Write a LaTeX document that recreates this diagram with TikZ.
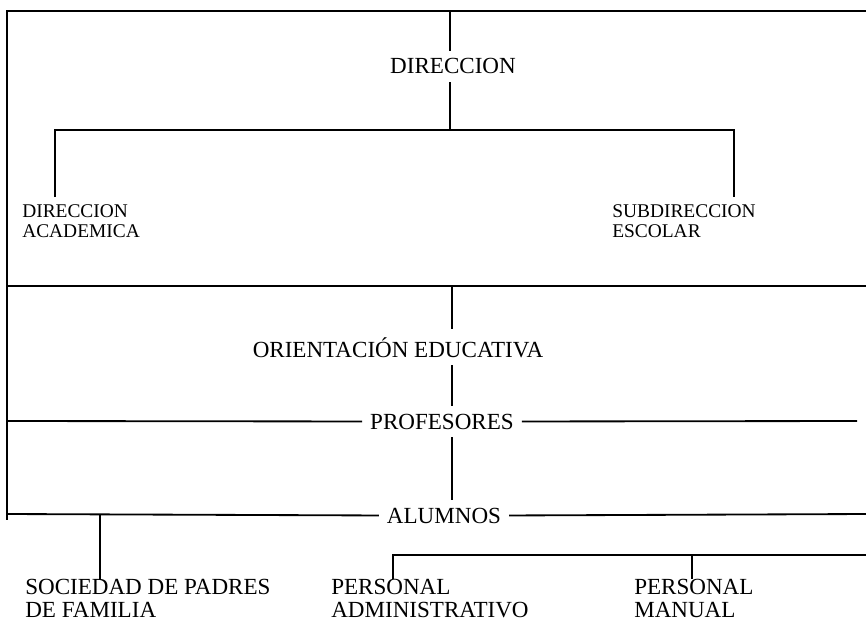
\documentclass[tikz,border=0pt]{standalone}
\usepackage{fontspec}
\setmainfont{Liberation Serif}
\usetikzlibrary{positioning,calc}

\begin{document}
\begin{tikzpicture}[
    x=0.025cm, y=-0.025cm,
    unit/.style={font=\fontsize{16.4}{16.6}\selectfont, inner sep=5.5pt},
    sub/.style={font=\fontsize{13.8}{14.2}\selectfont, align=left, inner xsep=0pt, inner ysep=5pt, anchor=north west},
    low/.style={font=\fontsize{16.4}{16.2}\selectfont, align=left, inner sep=0pt, anchor=north west},
    link/.style={line width=1.3pt}
]
\useasboundingbox (0,0) rectangle (866,623);

% Top level
\node[unit, anchor=base] (dir) at (453,74) {DIRECCION};
\node[sub] (diracad) at (22,197) {DIRECCION\\ACADEMICA};
\node[sub] (subdir) at (612,197) {SUBDIRECCION\\ESCOLAR};

% Middle
\node[unit, anchor=base] (orient) at (398,357) {ORIENTACIÓN EDUCATIVA};
\node[unit, anchor=base] (prof) at (442,429) {PROFESORES};
\node[unit, anchor=base] (alum) at (444,523) {ALUMNOS};

% Bottom
\node[low] (soc) at (25,579) {SOCIEDAD DE PADRES\\DE FAMILIA};
\node[low] (padm) at (331,579) {PERSONAL\\ADMINISTRATIVO};
\node[low] (pman) at (634,579) {PERSONAL\\MANUAL};

% Frame points
\coordinate (tl) at (7,11);
\coordinate (tr) at (866,11);
\coordinate (ltick) at (7,520);
\coordinate (dtop) at (450,11);
\coordinate (bl) at (55,130);
\coordinate (br) at (734,130);
\coordinate (ml) at (7,286);
\coordinate (mr) at (866,286);
\coordinate (otop) at (452,286);
\coordinate (pl) at (7,421);
\coordinate (pr) at (857,421);
\coordinate (al) at (7,514);
\coordinate (ar) at (866,514);
\coordinate (jsoc) at (100,514);
\coordinate (bl2) at (393,555);
\coordinate (br2) at (866,555);
\coordinate (jman) at (692,555);

% Lines
\draw[link] (tr) -- (tl) -- (ltick);
\draw[link] (dtop) -- (dtop |- dir.north);
\draw[link] (dtop |- dir.south) -- (dtop |- bl);
\draw[link] (bl |- diracad.north) -- (bl) -- (br) -- (br |- subdir.north);
\draw[link] (ml) -- (mr);
\draw[link] (otop) -- (otop |- orient.north);
\draw[link] (otop |- orient.south) -- (otop |- prof.north);
\draw[link] (otop |- prof.south) -- (otop |- alum.north);
\draw[link] (pl) -- (prof.west);
\draw[link] (prof.east) -- (pr);
\draw[link] (al) -- (alum.west);
\draw[link] (alum.east) -- (ar);
\draw[link] (jsoc) -- (jsoc |- soc.north);
\draw[link] (bl2 |- padm.north) -- (bl2) -- (br2);
\draw[link] (jman) -- (jman |- pman.north);

\end{tikzpicture}
\end{document}
